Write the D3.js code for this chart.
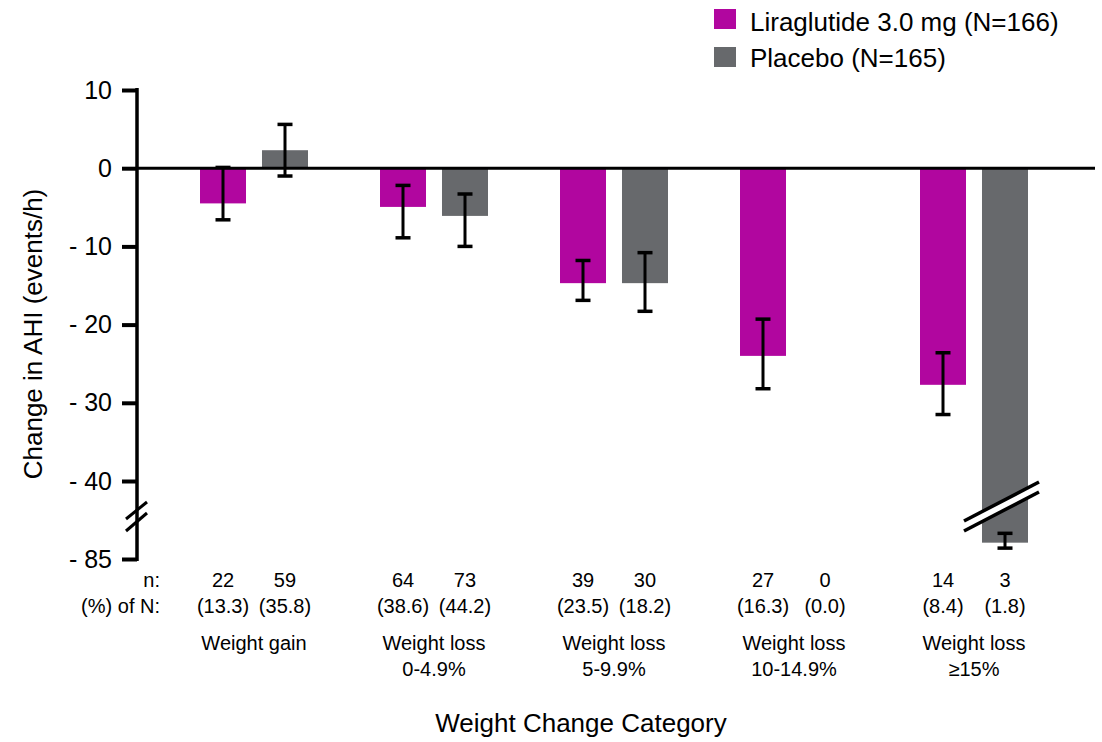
<!DOCTYPE html>
<html>
<head>
<meta charset="utf-8">
<script src="https://cdn.jsdelivr.net/npm/d3@7"></script>
<style>
  html, body { margin: 0; padding: 0; background: #fff; }
  svg { display: block; font-family: "Liberation Sans", Arial, sans-serif; }
</style>
</head>
<body>
<svg id="chart" width="1102" height="742"></svg>
<script>
// ---- Data ----
const categoryLine1 = ["Weight gain", "Weight loss", "Weight loss", "Weight loss", "Weight loss"];
const categoryLine2 = ["", "0-4.9%", "5-9.9%", "10-14.9%", "≥15%"];
const seriesNames = ["Liraglutide 3.0 mg (N=166)", "Placebo (N=165)"];

const liraMean  = [-4.5, -4.95, -14.7, -24.0, -27.7];
const liraLow   = [-6.6, -8.9, -16.9, -28.2, -31.5];
const liraHigh  = [0.1, -2.2, -11.8, -19.3, -23.6];
const placeboMean = [2.3, -6.1, -14.7, null, -82.9];
const placeboLow  = [-1.0, -10.0, -18.3, null, -83.6];
const placeboHigh = [5.6, -3.3, -10.8, null, -81.7];

const liraN = ["22", "64", "39", "27", "14"];
const liraPct = ["(13.3)", "(38.6)", "(23.5)", "(16.3)", "(8.4)"];
const placeboN = ["59", "73", "30", "0", "3"];
const placeboPct = ["(35.8)", "(44.2)", "(18.2)", "(0.0)", "(1.8)"];

const yTickValues = [10, 0, -10, -20, -30, -40, -85];
const yTickLabels = ["10", "0", "- 10", "- 20", "- 30", "- 40", "- 85"];

const colors = ["#b1069f", "#67696c"];

// ---- Layout ----
const svg = d3.select("#chart");
const axisX = 137;
const font = "Liberation Sans, Arial, sans-serif";

// Broken y scale: linear 10..-40, compressed gap, linear near -85
const y = d3.scaleLinear()
  .domain([10, -40, -78.7, -85])
  .range([90, 481, 510, 559]);

const x0 = d3.scaleBand().domain(d3.range(5)).range([164, 1064]).paddingInner(0).paddingOuter(0);
const x1 = d3.scaleBand().domain([0, 1]).range([36, 144]).paddingInner(0.258).paddingOuter(0);

const rows = d3.range(5).map(i => [
  { g: i, s: 0, mean: liraMean[i], low: liraLow[i], high: liraHigh[i], n: liraN[i], pct: liraPct[i] },
  { g: i, s: 1, mean: placeboMean[i], low: placeboLow[i], high: placeboHigh[i], n: placeboN[i], pct: placeboPct[i] }
]).flat();

const bx = d => x0(d.g) + x1(d.s);
const bc = d => bx(d) + x1.bandwidth() / 2;

// Bars
svg.append("g").selectAll("rect")
  .data(rows.filter(d => d.mean !== null))
  .join("rect")
  .attr("x", bx)
  .attr("width", x1.bandwidth())
  .attr("y", d => Math.min(y(d.mean), y(0)))
  .attr("height", d => Math.abs(y(d.mean) - y(0)))
  .attr("fill", d => colors[d.s]);

// Break on large placebo bar
const brk = rows.find(d => d.g === 4 && d.s === 1);
const bcx = bc(brk);
const bL = bcx - 41, bR = bcx + 34;
const breakG = svg.append("g");
breakG.append("polygon")
  .attr("points", [[bL, 521], [bR, 482], [bR, 492], [bL, 531]].map(p => p.join(",")).join(" "))
  .attr("fill", "#fff");
[[521, 482], [531, 492]].forEach(([a, b]) => {
  breakG.append("line")
    .attr("x1", bL).attr("y1", a).attr("x2", bR).attr("y2", b)
    .attr("stroke", "#000").attr("stroke-width", 3.5);
});

// Zero line
svg.append("line")
  .attr("x1", axisX).attr("x2", 1095)
  .attr("y1", y(0)).attr("y2", y(0))
  .attr("stroke", "#000").attr("stroke-width", 3);

// Error bars
const eb = svg.append("g").attr("stroke", "#000");
const ebRows = rows.filter(d => d.mean !== null);
eb.selectAll("line.v").data(ebRows).join("line")
  .attr("class", "v")
  .attr("x1", bc).attr("x2", bc)
  .attr("y1", d => y(d.high)).attr("y2", d => y(d.low))
  .attr("stroke-width", 3);
eb.selectAll("line.ch").data(ebRows).join("line")
  .attr("class", "ch")
  .attr("x1", d => bc(d) - 7.5).attr("x2", d => bc(d) + 7.5)
  .attr("y1", d => y(d.high)).attr("y2", d => y(d.high))
  .attr("stroke-width", 3.5);
eb.selectAll("line.cl").data(ebRows).join("line")
  .attr("class", "cl")
  .attr("x1", d => bc(d) - 7.5).attr("x2", d => bc(d) + 7.5)
  .attr("y1", d => y(d.low)).attr("y2", d => y(d.low))
  .attr("stroke-width", 3.5);

// Y axis
const yAxis = d3.axisLeft(y)
  .tickValues(yTickValues)
  .tickFormat((d, i) => yTickLabels[i])
  .tickSize(15)
  .tickPadding(10);
const ya = svg.append("g").attr("transform", `translate(${axisX},0)`).call(yAxis);
ya.select(".domain").remove();
ya.selectAll(".tick line").attr("stroke", "#000").attr("stroke-width", 4);
ya.selectAll(".tick text").attr("font-size", 25).attr("font-family", font).attr("fill", "#000");
ya.append("line").attr("x1", 0).attr("x2", 0).attr("y1", y(10) - 2).attr("y2", y(-85) + 2)
  .attr("stroke", "#000").attr("stroke-width", 3.5);
// axis break marks
[[519, 502], [531, 513]].forEach(([a, b]) => {
  ya.append("line").attr("x1", -11).attr("y1", a).attr("x2", 10).attr("y2", b)
    .attr("stroke", "#000").attr("stroke-width", 3);
});

// Y title
svg.append("text")
  .attr("transform", `translate(42,334) rotate(-90)`)
  .attr("text-anchor", "middle")
  .attr("font-size", 26).attr("font-family", font)
  .text("Change in AHI (events/h)");

// Below-axis table
const tbl = svg.append("g").attr("font-family", font).attr("font-size", 20).attr("fill", "#000");
tbl.append("text").attr("x", 160).attr("y", 587).attr("text-anchor", "end").text("n:");
tbl.append("text").attr("x", 160).attr("y", 613).attr("text-anchor", "end").text("(%) of N:");
tbl.selectAll("text.n").data(rows).join("text").attr("class", "n")
  .attr("x", bc).attr("y", 587).attr("text-anchor", "middle").text(d => d.n);
tbl.selectAll("text.p").data(rows).join("text").attr("class", "p")
  .attr("x", bc).attr("y", 613).attr("text-anchor", "middle").text(d => d.pct);
tbl.selectAll("text.c1").data(d3.range(5)).join("text").attr("class", "c1")
  .attr("x", i => x0(i) + x0.bandwidth() / 2).attr("y", 650).attr("text-anchor", "middle")
  .text(i => categoryLine1[i]);
tbl.selectAll("text.c2").data(d3.range(5)).join("text").attr("class", "c2")
  .attr("x", i => x0(i) + x0.bandwidth() / 2).attr("y", 676).attr("text-anchor", "middle")
  .text(i => categoryLine2[i]);

// X title
svg.append("text")
  .attr("x", 581).attr("y", 732)
  .attr("text-anchor", "middle")
  .attr("font-size", 26).attr("font-family", font)
  .text("Weight Change Category");

// Legend
const lg = svg.append("g").attr("font-family", font).attr("font-size", 26);
seriesNames.forEach((name, i) => {
  lg.append("rect").attr("x", 714).attr("y", 9 + i * 38).attr("width", 22).attr("height", 20).attr("fill", colors[i]);
  lg.append("text").attr("x", 750).attr("y", 31 + i * 36).text(name);
});
</script>
</body>
</html>
